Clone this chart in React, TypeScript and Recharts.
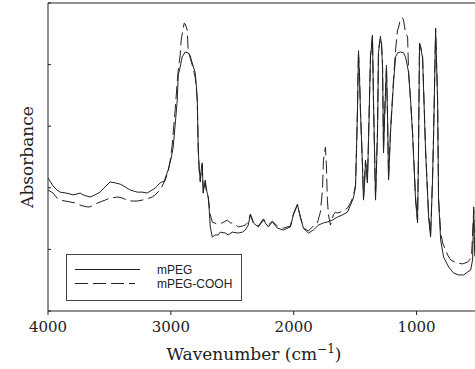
import { LineChart, Line, XAxis, YAxis, Legend, ReferenceLine, Label } from 'recharts'

// wavenumber (cm-1) and absorbance (arbitrary units, 0-100)
const mpegWn = [
  4000, 3959, 3927, 3902, 3853, 3821, 3796, 3764, 3739, 3715, 3682, 3658, 3617, 3576, 3535, 3495,
  3454, 3413, 3372, 3332, 3274, 3234, 3193, 3152, 3128, 3087, 3054, 3022, 2997, 2981, 2965, 2948,
  2940, 2924, 2908, 2883, 2859, 2842, 2826, 2802, 2793, 2785, 2777, 2769, 2761, 2753, 2745, 2736,
  2728, 2720, 2712, 2704, 2696, 2688, 2679, 2663, 2639, 2614, 2598, 2557, 2533, 2500, 2451, 2418,
  2394, 2370, 2353, 2329, 2288, 2247, 2207, 2174, 2133, 2084, 2027, 2003, 1986, 1970, 1946, 1921,
  1880, 1840, 1799, 1758, 1726, 1685, 1644, 1603, 1563, 1538, 1514, 1497, 1489, 1481, 1473, 1465,
  1457, 1440, 1432, 1424, 1416, 1408, 1400, 1391, 1375, 1359, 1351, 1334, 1318, 1310, 1302, 1293,
  1285, 1277, 1269, 1261, 1245, 1236, 1228, 1212, 1188, 1171, 1155, 1130, 1106, 1090, 1073, 1065,
  1049, 1033, 1008, 992, 984, 976, 967, 951, 927, 902, 886, 870, 861, 845, 829, 821,
  804, 780, 739, 698, 658, 617, 584, 560, 544, 535, 527, 511,
]
const mpegAbs = [
  43.2, 40.6, 39.3, 38.6, 38.3, 38.0, 37.7, 38.0, 38.3, 37.7, 37.3, 37.0, 37.7, 38.6, 40.3, 41.9,
  41.6, 41.2, 40.3, 39.3, 38.6, 38.6, 38.3, 39.3, 39.9, 41.6, 42.2, 45.8, 49.7, 53.2, 60.4, 68.5,
  76.6, 79.2, 82.5, 84.1, 83.8, 82.8, 80.5, 77.3, 73.4, 68.5, 52.3, 45.8, 42.5, 45.8, 48.1, 38.3,
  40.9, 42.5, 39.9, 38.3, 37.0, 32.8, 27.3, 24.0, 24.7, 24.7, 25.6, 25.3, 24.7, 25.6, 25.3, 25.6,
  26.3, 27.9, 31.2, 28.6, 27.3, 29.5, 27.3, 28.9, 26.9, 26.3, 27.3, 31.2, 32.8, 34.7, 30.5, 26.9,
  25.3, 26.3, 27.9, 28.6, 28.9, 29.5, 30.5, 31.2, 32.1, 34.4, 36.7, 40.3, 52.3, 65.3, 83.8, 76.6,
  65.3, 46.8, 36.0, 40.9, 48.1, 45.8, 41.6, 55.5, 82.5, 89.0, 68.5, 36.0, 57.8, 83.8, 86.4, 88.6,
  86.4, 79.2, 51.3, 62.0, 78.9, 62.0, 42.5, 57.8, 74.0, 82.5, 83.8, 84.1, 83.8, 82.5, 79.2, 77.3,
  68.5, 57.8, 36.0, 28.6, 52.3, 86.4, 85.4, 82.1, 52.3, 30.5, 24.0, 42.5, 57.8, 91.2, 68.5, 36.0,
  23.1, 17.5, 14.3, 12.3, 11.7, 11.7, 12.7, 13.3, 16.6, 33.8, 18.2, 16.6,
]

const coohWn = [
  4000, 3959, 3927, 3902, 3861, 3821, 3780, 3739, 3715, 3682, 3658, 3617, 3576, 3535, 3495, 3429,
  3397, 3356, 3315, 3274, 3234, 3193, 3152, 3128, 3087, 3046, 3022, 3005, 2989, 2981, 2965, 2948,
  2940, 2924, 2916, 2899, 2891, 2883, 2867, 2859, 2842, 2826, 2802, 2793, 2785, 2777, 2769, 2761,
  2753, 2745, 2736, 2728, 2720, 2712, 2704, 2696, 2688, 2679, 2663, 2622, 2582, 2541, 2516, 2492,
  2451, 2418, 2394, 2370, 2353, 2329, 2288, 2247, 2207, 2174, 2133, 2084, 2027, 2003, 1986, 1970,
  1946, 1921, 1880, 1840, 1807, 1783, 1766, 1758, 1742, 1734, 1726, 1717, 1701, 1677, 1660, 1644,
  1620, 1587, 1563, 1538, 1514, 1497, 1489, 1481, 1473, 1465, 1457, 1440, 1432, 1424, 1416, 1408,
  1400, 1391, 1375, 1359, 1351, 1334, 1318, 1310, 1302, 1293, 1285, 1277, 1269, 1261, 1245, 1236,
  1228, 1212, 1188, 1171, 1155, 1147, 1130, 1114, 1106, 1090, 1073, 1065, 1049, 1033, 1008, 992,
  984, 976, 967, 951, 927, 902, 886, 870, 861, 845, 829, 821, 804, 788, 747, 723,
  674, 625, 584, 568, 552, 535, 527, 511,
]
const coohAbs = [
  39.3, 38.3, 36.7, 36.0, 35.7, 35.4, 35.1, 34.4, 34.1, 33.8, 33.8, 34.7, 35.4, 36.0, 36.7, 37.0,
  36.7, 36.0, 35.7, 35.7, 36.0, 36.4, 37.0, 37.7, 39.3, 42.5, 45.1, 49.0, 53.9, 57.8, 65.3, 74.4,
  78.2, 83.1, 88.0, 91.9, 93.5, 93.2, 91.2, 84.7, 82.1, 79.9, 76.0, 72.4, 68.5, 52.3, 45.8, 41.9,
  45.1, 47.4, 38.3, 40.3, 41.6, 39.3, 38.3, 37.0, 34.4, 31.2, 28.9, 28.2, 28.6, 29.5, 28.6, 28.6,
  27.3, 27.6, 27.9, 28.9, 31.5, 28.9, 27.6, 29.9, 27.9, 29.2, 27.6, 26.9, 27.6, 31.5, 33.1, 34.4,
  30.5, 26.9, 26.0, 27.6, 28.6, 32.1, 39.3, 49.0, 53.2, 47.4, 36.0, 31.2, 27.9, 31.2, 32.1, 31.8,
  32.1, 32.8, 33.4, 35.1, 37.3, 40.9, 52.3, 65.3, 84.7, 77.6, 65.3, 47.4, 36.7, 41.6, 49.0, 46.4,
  42.2, 56.2, 83.1, 89.6, 69.2, 36.7, 58.8, 84.7, 87.0, 89.3, 87.0, 79.9, 52.3, 62.7, 79.9, 62.7,
  43.2, 58.8, 75.0, 84.7, 91.2, 91.9, 95.1, 95.1, 94.5, 90.3, 89.0, 77.6, 68.5, 58.4, 36.7, 29.2,
  52.9, 87.0, 86.0, 82.8, 52.9, 31.2, 24.7, 43.2, 58.4, 91.9, 69.2, 36.7, 25.6, 22.1, 18.2, 16.6,
  15.6, 15.3, 15.9, 16.6, 18.2, 32.8, 19.2, 17.2,
]

const xTicks = [4000, 3000, 2000, 1000]
const yTicks = [0, 20, 40, 60, 80, 100]
const seriesNames = ['mPEG', 'mPEG-COOH']

const mpegData = mpegWn.map((wn, i) => ({ wn, a: mpegAbs[i] }))
const coohData = coohWn.map((wn, i) => ({ wn, a: coohAbs[i] }))

const INK = '#222'
const SERIF = '"DejaVu Serif", serif'
const DASH = '13 5'

function LegendBox() {
  return (
    <div style={{ width: 176, height: 47, border: '1px solid #444', boxSizing: 'border-box', background: '#fff' }}>
      <svg width={174} height={45} style={{ display: 'block' }}>
        <line x1={8} x2={73} y1={14.5} y2={14.5} stroke={INK} strokeWidth={1} />
        <line x1={8} x2={68} y1={28.5} y2={28.5} stroke={INK} strokeWidth={1} strokeDasharray={DASH} />
        <text x={90} y={19} fontFamily='"Liberation Sans", Arial, sans-serif' fontSize={12} fill={INK}>{seriesNames[0]}</text>
        <text x={90} y={33} fontFamily='"Liberation Sans", Arial, sans-serif' fontSize={12} fill={INK}>{seriesNames[1]}</text>
      </svg>
    </div>
  )
}

function XTitle({ viewBox }: any) {
  const cx = viewBox.x + viewBox.width / 2 - 9
  return (
    <text x={cx} y={viewBox.y + 49} textAnchor="middle" fontFamily={SERIF} fontSize={17} fill={INK}>
      Wavenumber (cm
      <tspan fontSize={12} dy={-7}>−1</tspan>
      <tspan dy={7}>)</tspan>
    </text>
  )
}

function YTitle({ viewBox }: any) {
  const x = viewBox.x + viewBox.width - 15
  const y = viewBox.y + viewBox.height / 2
  return (
    <text x={x} y={y} transform={`rotate(-90 ${x} ${y})`} textAnchor="middle" fontFamily={SERIF} fontSize={17} fill={INK}>
      Absorbance
    </text>
  )
}

export default function App() {
  return (
    <div style={{ position: 'absolute', left: 0, top: 0, width: 475, height: 369, overflow: 'hidden', background: '#fff' }}>
      <LineChart width={478} height={369} margin={{ top: 3, right: 0, left: 0, bottom: 18 }}>
        <XAxis
          type="number"
          dataKey="wn"
          domain={[500, 4000]}
          reversed
          allowDataOverflow
          ticks={xTicks}
          height={40}
          tickSize={4}
          tickMargin={6}
          stroke={INK}
          tick={{ fontSize: 15, fontFamily: SERIF, fill: INK }}
        >
          <Label content={<XTitle />} />
        </XAxis>
        <YAxis
          type="number"
          domain={[0, 100]}
          ticks={yTicks}
          width={48}
          tickSize={-3}
          stroke={INK}
          tickFormatter={() => ''}
        >
          <Label content={<YTitle />} />
        </YAxis>
        <ReferenceLine y={100} stroke={INK} />
        <Legend
          layout="horizontal"
          verticalAlign="middle"
          align="center"
          content={<LegendBox />}
          wrapperStyle={{ left: 66, top: 254, width: 176, height: 47 }}
        />
        <Line
          data={coohData}
          dataKey="a"
          name={seriesNames[1]}
          type="linear"
          stroke={INK}
          strokeWidth={1}
          strokeDasharray={DASH}
          dot={false}
          isAnimationActive={false}
        />
        <Line
          data={mpegData}
          dataKey="a"
          name={seriesNames[0]}
          type="linear"
          stroke={INK}
          strokeWidth={1}
          dot={false}
          isAnimationActive={false}
        />
      </LineChart>
    </div>
  )
}
